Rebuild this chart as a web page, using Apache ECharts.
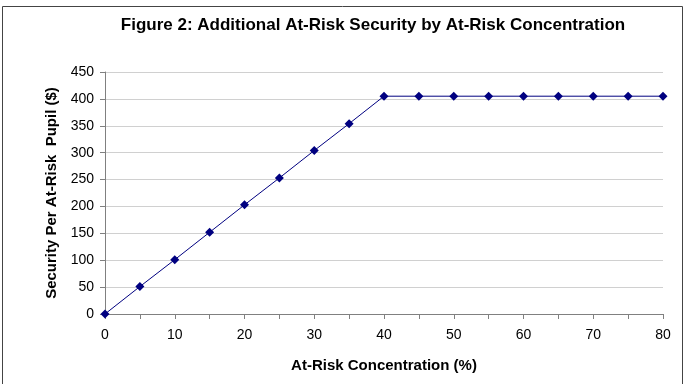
<!DOCTYPE html>
<html>
<head>
<meta charset="utf-8">
<script src="https://cdn.jsdelivr.net/npm/echarts@6/dist/echarts.min.js"></script>
<style>
  html, body { margin: 0; padding: 0; background: #fff; }
  #chart { width: 690px; height: 384px; }
</style>
</head>
<body>
<div id="chart"></div>
<script>
// at-risk concentration (%) and security per at-risk pupil ($)
var concentration = [0, 5, 10, 15, 20, 25, 30, 35, 40, 45, 50, 55, 60, 65, 70, 75, 80];
var security = [0, 51, 101, 152, 203, 253, 304, 354, 405, 405, 405, 405, 405, 405, 405, 405, 405];

var axisColor = '#808080'; // axis lines
var gridColor = '#d0d0d0'; // grid lines
var lineColor = '#000080'; // series

var points = concentration.map(function (x, i) {
    return [x, security[i]];
});

var option = {
    animation: false,
    textStyle: { fontFamily: 'Liberation Sans, Arial, sans-serif' },
    title: {
        text: 'Figure 2: Additional At-Risk Security by At-Risk Concentration',
        left: 368,
        textAlign: 'center',
        top: 12,
        textStyle: { fontSize: 17, fontWeight: 'bold', color: '#000' }
    },
    graphic: [{
        type: 'rect',
        shape: { x: 2.5, y: 6.5, width: 680, height: 400 },
        style: { fill: 'none', stroke: '#444', lineWidth: 1 },
        silent: true
    }],
    grid: { left: 105, right: 27, top: 72, bottom: 70 },
    xAxis: {
        type: 'value',
        min: 0,
        max: 80,
        interval: 5,
        name: 'At-Risk Concentration (%)',
        nameLocation: 'middle',
        nameGap: 44,
        nameTextStyle: { fontSize: 15, fontWeight: 'bold', color: '#000' },
        axisLine: { lineStyle: { color: axisColor } },
        axisTick: { length: 5, lineStyle: { color: axisColor } },
        axisLabel: {
            color: '#000',
            fontSize: 14,
            margin: 14,
            formatter: function (v) { return v % 10 === 0 ? v : ''; }
        },
        splitLine: { show: false }
    },
    yAxis: {
        type: 'value',
        min: 0,
        max: 450,
        interval: 50,
        name: 'Security Per At-Risk  Pupil ($)',
        nameLocation: 'middle',
        nameGap: 46,
        nameTextStyle: { fontSize: 15, fontWeight: 'bold', color: '#000' },
        axisLine: { show: true, lineStyle: { color: axisColor } },
        axisTick: { show: true, length: 5, lineStyle: { color: axisColor } },
        axisLabel: { color: '#000', fontSize: 14, margin: 11 },
        splitLine: { lineStyle: { color: gridColor } }
    },
    series: [{
        type: 'line',
        data: points,
        symbol: 'diamond',
        symbolSize: 9,
        lineStyle: { color: lineColor, width: 1 },
        itemStyle: { color: lineColor }
    }]
};

echarts.init(document.getElementById('chart')).setOption(option);
</script>
</body>
</html>
